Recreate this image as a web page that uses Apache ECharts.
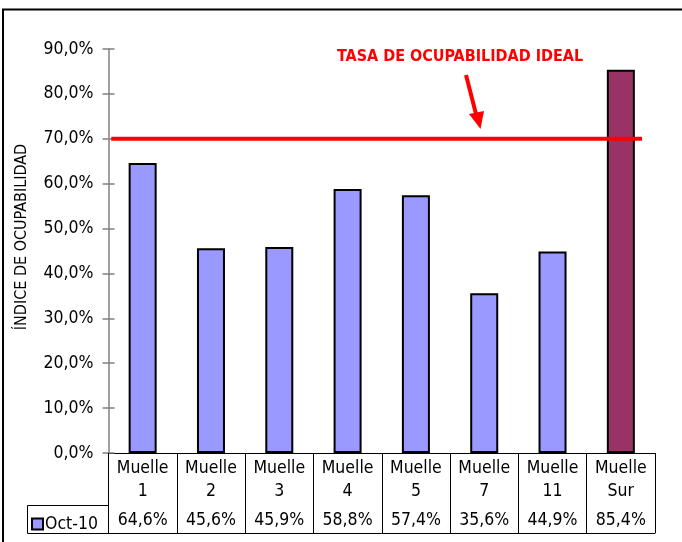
<!DOCTYPE html>
<html>
<head>
<meta charset="utf-8">
<script src="https://cdn.jsdelivr.net/npm/echarts@6/dist/echarts.min.js"></script>
<style>
html,body{margin:0;padding:0;background:#fff;}
#chart{width:682px;height:542px;}
</style>
</head>
<body>
<div id="chart"></div>
<script>
// ---- data ----
var categories = ['Muelle\n1', 'Muelle\n2', 'Muelle\n3', 'Muelle\n4', 'Muelle\n5', 'Muelle\n7', 'Muelle\n11', 'Muelle\nSur'];
var seriesName = 'Oct-10';
var occupancy = [64.6, 45.6, 45.9, 58.8, 57.4, 35.6, 44.9, 85.4];
var highlightIndex = [7];
var idealRate = 70;
var idealLabel = 'TASA DE OCUPABILIDAD IDEAL';
var yAxisTitle = 'ÍNDICE DE OCUPABILIDAD';
var yTicks = [0, 10, 20, 30, 40, 50, 60, 70, 80, 90];

// ---- styles / layout ----
var FONT = 'DejaVu Sans Condensed';
var GRID_L = 108.5, GRID_R = 27, GRID_T = 49, GRID_B = 89;
function pct(v) { return v.toFixed(1).replace('.', ',') + '%'; }

var chart = echarts.init(document.getElementById('chart'), null, {renderer: 'canvas'});

var barData = occupancy.map(function (v, i) {
  var hi = highlightIndex.indexOf(i) >= 0;
  return {value: v, itemStyle: {color: hi ? '#993366' : '#9999FF'}};
});

var option = {
  animation: false,
  backgroundColor: '#ffffff',
  grid: {left: GRID_L, right: GRID_R, top: GRID_T, bottom: GRID_B, containLabel: false},
  legend: {
    data: [seriesName],
    left: 26, top: 510,
    icon: 'rect', itemWidth: 11, itemHeight: 11, itemGap: 4,
    textStyle: {fontFamily: FONT, fontSize: 17.5, color: '#000', padding: [0, 0, 0, -3]},
    selectedMode: false
  },
  xAxis: [
    {
      type: 'category', data: categories, position: 'bottom',
      axisLine: {show: true, lineStyle: {color: '#000', width: 1}},
      axisTick: {show: true, interval: 0, length: 80, lineStyle: {color: '#000', width: 1}},
      axisLabel: {interval: 0, margin: 4, fontFamily: FONT, fontSize: 17.5, color: '#000', lineHeight: 23}
    },
    {
      type: 'category', data: categories, position: 'bottom', offset: 52,
      axisLine: {show: true, lineStyle: {color: '#000', width: 1}},
      axisTick: {show: false},
      axisLabel: {interval: 0, margin: 6, fontFamily: FONT, fontSize: 17.5, color: '#000', lineHeight: 19,
        formatter: function (val, idx) { return pct(occupancy[idx]); }}
    },
    {
      type: 'category', data: categories, position: 'bottom', offset: 80,
      axisLine: {show: true, lineStyle: {color: '#000', width: 1}},
      axisTick: {show: false}, axisLabel: {show: false}
    },
    {
      type: 'value', min: 0, max: categories.length, show: false
    }
  ],
  yAxis: [
    {
      type: 'value', min: yTicks[0], max: yTicks[yTicks.length - 1], interval: yTicks[1] - yTicks[0],
      position: 'left',
      axisLine: {show: true, lineStyle: {color: '#808080', width: 1.5}},
      axisTick: {show: true, length: 6, lineStyle: {color: '#808080', width: 1.5}},
      splitLine: {show: false},
      axisLabel: {margin: 15, fontFamily: FONT, fontSize: 17.5, color: '#000', formatter: pct}
    },
    {
      type: 'value', min: yTicks[0], max: yTicks[yTicks.length - 1], interval: yTicks[1] - yTicks[0],
      position: 'left', offset: 0,
      axisLine: {show: false},
      axisTick: {show: true, inside: true, length: 6, lineStyle: {color: '#808080', width: 1.5}},
      splitLine: {show: false}, axisLabel: {show: false}
    }
  ],
  series: [
    {
      name: seriesName, type: 'bar', xAxisIndex: 0, yAxisIndex: 0,
      data: barData, barWidth: '41%',
      itemStyle: {color: '#9999FF', borderColor: '#000', borderWidth: 2}
    },
    {
      name: 'ideal', type: 'line', xAxisIndex: 3, yAxisIndex: 0, silent: true, z: 5,
      symbol: 'none',
      lineStyle: {color: '#ff0000', width: 4},
      data: [[0.04, idealRate], [7.81, idealRate]]
    }
  ],
  graphic: [
    {type: 'rect', z: 0, silent: true,
      shape: {x: 3, y: 9.5, width: 700, height: 600},
      style: {fill: 'none', stroke: '#000', lineWidth: 2}},
    {type: 'polyline', silent: true, z: 1,
      shape: {points: [[GRID_L, 505.5], [27.5, 505.5], [27.5, 533.5], [GRID_L, 533.5]]},
      style: {fill: 'none', stroke: '#000', lineWidth: 1}},
    {type: 'text', left: 337, top: 49, silent: true,
      style: {text: idealLabel, fill: '#ff0000', font: 'bold 16px "' + FONT + '"'}},
    {type: 'text', silent: true, x: 22, y: 237, rotation: Math.PI / 2,
      style: {text: yAxisTitle, fill: '#000', font: '16px "' + FONT + '"', align: 'center', verticalAlign: 'middle'}},
    {type: 'line', silent: true,
      shape: {x1: 466, y1: 75, x2: 476, y2: 114},
      style: {stroke: '#ff0000', lineWidth: 4}},
    {type: 'polygon', silent: true,
      shape: {points: [[469, 114], [484, 111], [480.5, 129]]},
      style: {fill: '#ff0000'}}
  ]
};
chart.setOption(option);
</script>
</body>
</html>
